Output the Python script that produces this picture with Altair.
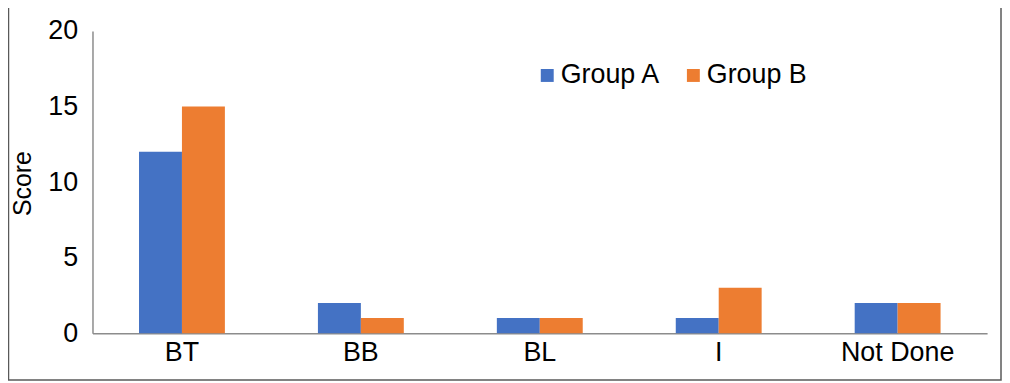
import altair as alt
import pandas as pd

categories = ["BT", "BB", "BL", "I", "Not Done"]
groups = ["Group A", "Group B"]
group_a = [12, 2, 1, 1, 2]
group_b = [15, 1, 1, 3, 2]
y_ticks = [0, 5, 10, 15, 20]

rows = []
for c, a, b in zip(categories, group_a, group_b):
    rows.append({"category": c, "group": groups[0], "score": a})
    rows.append({"category": c, "group": groups[1], "score": b})
df = pd.DataFrame(rows)

FONT = "Liberation Sans"
AXIS_GREY = "#8C8C8C"
FS = 27

bars = alt.Chart(df).mark_bar(strokeWidth=0).encode(
    x=alt.X(
        "category:N",
        sort=categories,
        scale=alt.Scale(paddingInner=0.52, paddingOuter=0.26),
        axis=alt.Axis(
            title=None, labelAngle=0, ticks=False, domainColor=AXIS_GREY,
            domainWidth=1.5, labelFontSize=FS, labelColor="#000000",
            labelPadding=7, labelFont=FONT,
        ),
    ),
    xOffset=alt.XOffset("group:N", sort=groups,
                        scale=alt.Scale(paddingInner=0, paddingOuter=0)),
    y=alt.Y(
        "score:Q",
        scale=alt.Scale(domain=[0, 20]),
        axis=alt.Axis(
            values=y_ticks, title="Score", grid=False, ticks=False,
            domainColor=AXIS_GREY, domainWidth=1.5, labelFontSize=FS,
            labelColor="#000000", labelPadding=15, labelFont=FONT,
            titleFontSize=25, titleFontWeight="normal", titleFont=FONT,
            titleColor="#000000", titleX=-57, titleY=153,
        ),
    ),
    color=alt.Color(
        "group:N",
        sort=groups,
        scale=alt.Scale(domain=groups, range=["#4472C4", "#ED7D31"]),
        legend=alt.Legend(
            title=None, orient="none", legendX=444, legendY=31,
            direction="horizontal", symbolType="square", symbolSize=169,
            labelFontSize=FS, labelFont=FONT, labelColor="#000000",
            columnPadding=19, symbolStrokeWidth=0, labelOffset=0,
        ),
    ),
)

frame = alt.Chart(pd.DataFrame({"k": [0]})).mark_rect(
    filled=False, stroke="#595959", strokeWidth=1.5, clip=False
).encode(
    x=alt.value(-84.5), x2=alt.value(914),
    y=alt.value(-40), y2=alt.value(351),
)

chart = alt.layer(bars, frame).properties(
    width=900, height=304,
    padding={"left": 85, "top": 22, "right": 15, "bottom": 48},
    autosize=alt.AutoSizeParams(type="none"),
).configure_view(stroke=None)

chart.save("out.html", embed_options={"renderer": "svg", "actions": False})
